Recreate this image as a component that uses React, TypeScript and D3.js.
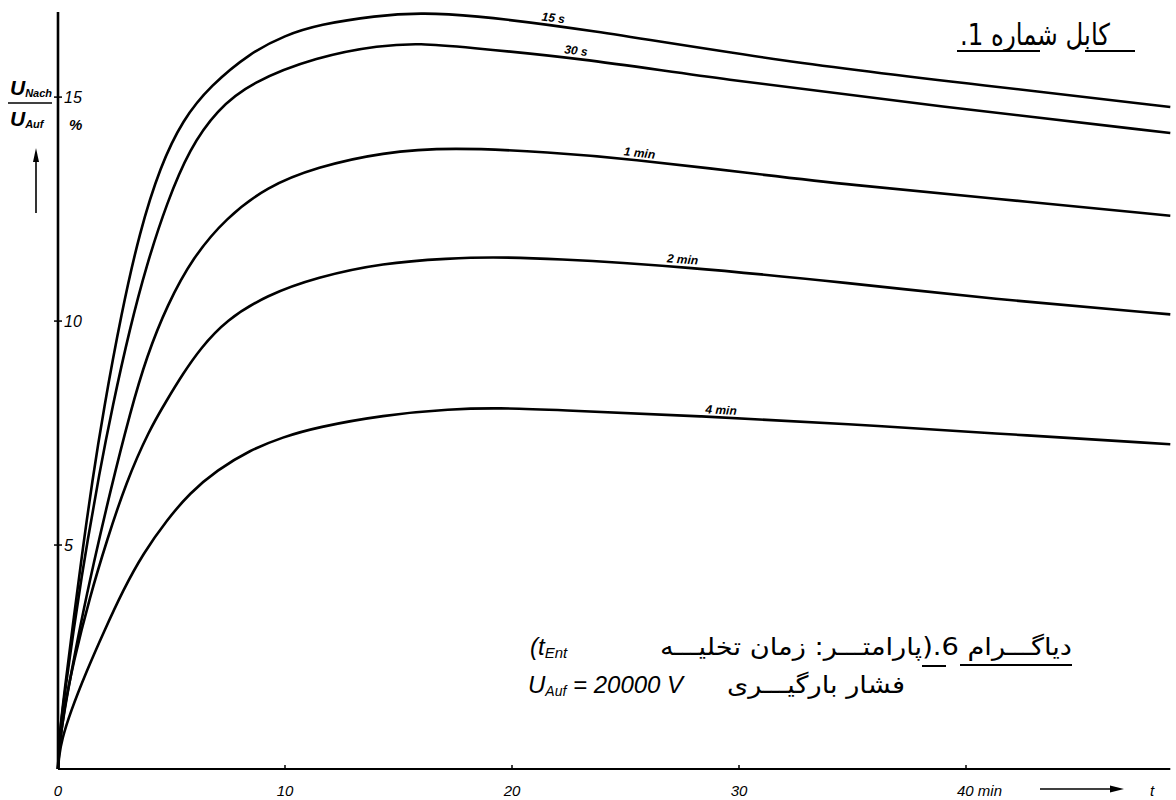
import * as d3 from 'd3';

// discharge voltage ratio U_Nach/U_Auf (%) against time (min), one curve per discharge time t_Ent
const curveNames = ['15 s', '30 s', '1 min', '2 min', '4 min'];

const series15s: [number, number][] = [
  [0, 0], [0.05, 0.7], [0.3, 1.8], [0.7, 3.4], [1.1, 4.95], [1.5, 6.4], [2.0, 8.0], [2.8, 10.2],
  [3.6, 12.0], [4.5, 13.45], [5.5, 14.5], [6.7, 15.25], [8.5, 16.0], [10, 16.38], [11.5, 16.62],
  [14, 16.82], [16, 16.88], [18, 16.84], [23, 16.54], [32, 15.78], [41, 15.25], [49, 14.78],
];
const series30s: [number, number][] = [
  [0, 0], [0.05, 0.7], [0.3, 1.7], [0.7, 3.15], [1.0, 4.15], [1.27, 5.0], [1.8, 6.55], [2.4, 8.1],
  [3.17, 9.85], [3.9, 11.25], [4.8, 12.65], [5.8, 13.85], [7.0, 14.71], [8.5, 15.33], [11.4, 15.9],
  [14.2, 16.16], [16, 16.2], [17.8, 16.12], [23, 15.87], [28.9, 15.42], [39, 14.78], [49, 14.2],
];
const series1min: [number, number][] = [
  [0, 0], [0.05, 0.5], [0.25, 1.2], [0.53, 2.0], [1.0, 3.25], [1.55, 4.55], [2.3, 6.2], [3.2, 8.0],
  [3.9, 9.2], [4.8, 10.35], [5.95, 11.43], [7.4, 12.3], [9.2, 13.0], [11.4, 13.44], [14.3, 13.77],
  [17.3, 13.88], [21.7, 13.77], [25.2, 13.62], [30.5, 13.3], [34.9, 13.04], [41, 12.75], [49, 12.35],
];
const series2min: [number, number][] = [
  [0, 0], [0.05, 0.4], [0.23, 1.25], [0.67, 2.37], [1.4, 3.84], [2.15, 5.1], [3.0, 6.4], [4.0, 7.55],
  [4.8, 8.24], [5.5, 8.82], [6.26, 9.38], [7.4, 10.02], [9.2, 10.58], [11.4, 10.98], [14.3, 11.3],
  [17.3, 11.4], [19, 11.43], [21.7, 11.4], [27.5, 11.22], [34.9, 10.85], [41, 10.5], [49, 10.15],
];
const series4min: [number, number][] = [
  [0, 0], [0.05, 0.3], [0.17, 0.65], [0.53, 1.25], [1.27, 2.2], [2.0, 3.04], [2.87, 4.0], [3.76, 4.82],
  [4.8, 5.56], [5.8, 6.16], [7.0, 6.67], [8.46, 7.12], [9.9, 7.41], [11.4, 7.63], [14.3, 7.9],
  [17.3, 8.04], [19.5, 8.06], [21.7, 8.02], [28.3, 7.88], [34.9, 7.7], [41, 7.5], [49, 7.25],
];
const allSeries = [series15s, series30s, series1min, series2min, series4min];

// where along each curve its label sits (min)
const labelAt = [21.8, 22.8, 25.6, 27.5, 29.2];

const xTicks = [0, 10, 20, 30, 40];
const yTicks = [5, 10, 15];

const W = 1176;
const H = 800;

const x = d3.scaleLinear().domain([0, 49]).range([58, 58 + 49 * 22.7]);
const y = d3.scaleLinear().domain([0, 16.9]).range([769, 12]);

const line = d3
  .line<[number, number]>()
  .x(d => x(d[0]))
  .y(d => y(d[1]))
  .curve(d3.curveBasis);

// linear lookup of a curve value, only used to park the labels on the lines
const valueAt = (s: [number, number][], t: number) => {
  const i = d3.bisector((d: [number, number]) => d[0]).left(s, t);
  if (i <= 0) return s[0][1];
  if (i >= s.length) return s[s.length - 1][1];
  const [t0, v0] = s[i - 1];
  const [t1, v1] = s[i];
  return v0 + ((v1 - v0) * (t - t0)) / (t1 - t0);
};

const tickFont = "'Liberation Sans', Arial, sans-serif";
const farsiFont = "'DejaVu Sans', sans-serif";

export default function App() {
  return (
    <svg
      width={W}
      height={H}
      viewBox={`0 0 ${W} ${H}`}
      style={{ position: 'absolute', left: 0, top: 0, background: '#fff' }}
    >
      <rect width={W} height={H} fill="#fff" />

      {/* axes */}
      <line x1={x(0)} x2={x(0)} y1={y(0)} y2={y(16.9)} stroke="#000" strokeWidth={2.6} />
      <line x1={x(0)} x2={x(49)} y1={y(0)} y2={y(0)} stroke="#000" strokeWidth={2} />

      {yTicks.map(v => (
        <g key={v}>
          <line x1={x(0) - 4} x2={x(0) + 4} y1={y(v)} y2={y(v)} stroke="#000" strokeWidth={1.5} />
          <text
            x={x(0) + 6}
            y={y(v) + 6}
            fontFamily={tickFont}
            fontStyle="italic"
            fontSize={16}
          >
            {v}
          </text>
        </g>
      ))}
      <text x={x(0) + 11} y={y(15) + 33} fontFamily={tickFont} fontStyle="italic" fontWeight="bold" fontSize={15}>
        %
      </text>

      {xTicks.map(t => (
        <g key={t}>
          {t > 0 && <line x1={x(t)} x2={x(t)} y1={y(0)} y2={y(0) - 4} stroke="#000" strokeWidth={1.5} />}
          <text
            x={t === 40 ? x(t) - 9 : x(t)}
            y={796}
            textAnchor={t === 40 ? 'start' : 'middle'}
            fontFamily={tickFont}
            fontStyle="italic"
            fontSize={15}
          >
            {t === 40 ? '40 min' : t}
          </text>
        </g>
      ))}

      {/* time arrow */}
      <line x1={1040} x2={1112} y1={789} y2={789} stroke="#000" strokeWidth={1.6} />
      <polygon points="1124,789 1110,785.5 1110,792.5" fill="#000" />
      <text x={1150} y={796} fontFamily={tickFont} fontStyle="italic" fontSize={15}>
        t
      </text>

      {/* y label */}
      <text x={10} y={95} fontFamily={tickFont} fontStyle="italic" fontWeight="bold" fontSize={21}>
        U
        <tspan fontSize={11} dy={2}>
          Nach
        </tspan>
      </text>
      <line x1={8} x2={52} y1={103} y2={103} stroke="#000" strokeWidth={1.6} />
      <text x={10} y={126} fontFamily={tickFont} fontStyle="italic" fontWeight="bold" fontSize={21}>
        U
        <tspan fontSize={11} dy={2}>
          Auf
        </tspan>
      </text>
      <line x1={36} x2={36} y1={213} y2={158} stroke="#000" strokeWidth={1.6} />
      <polygon points="36,148 33,162 39,162" fill="#000" />

      {/* curves */}
      {allSeries.map((s, i) => (
        <path key={i} d={line(s) ?? ''} fill="none" stroke="#000" strokeWidth={2.6} strokeLinejoin="round" />
      ))}

      {allSeries.map((s, i) => {
        const t = labelAt[i];
        const px = x(t);
        const py = y(valueAt(s, t));
        const ang =
          (Math.atan2(y(valueAt(s, t + 1)) - y(valueAt(s, t - 1)), x(t + 1) - x(t - 1)) * 180) / Math.PI;
        return (
          <text
            key={curveNames[i]}
            transform={`translate(${px},${py - 3}) rotate(${ang})`}
            textAnchor="middle"
            fontFamily={tickFont}
            fontStyle="italic"
            fontWeight="bold"
            fontSize={12}
          >
            {curveNames[i]}
          </text>
        );
      })}

      {/* title, top right */}
      <text
        x={1110}
        y={45}
        direction="rtl"
        textAnchor="start"
        fontFamily={farsiFont}
        fontSize={30}
        textLength={150}
        lengthAdjust="spacingAndGlyphs"
      >
        کابل شماره 1.
      </text>
      <line x1={957} x2={1040} y1={51} y2={51} stroke="#000" strokeWidth={2} />
      <line x1={1085} x2={1135} y1={51} y2={51} stroke="#000" strokeWidth={2} />

      {/* note, bottom right */}
      <text x={530} y={655} fontFamily={tickFont} fontStyle="italic" fontSize={24}>
        (t
        <tspan fontSize={15} dy={3}>
          Ent
        </tspan>
      </text>
      <text
        x={1072}
        y={655}
        direction="rtl"
        textAnchor="start"
        fontFamily={farsiFont}
        fontSize={24}
        textLength={412}
        lengthAdjust="spacingAndGlyphs"
      >
        دیاگـــرام 6.(پارامتـــر: زمان تخلیـــه
      </text>
      <line x1={922} x2={946} y1={666} y2={666} stroke="#000" strokeWidth={2} />
      <line x1={960} x2={1072} y1={665} y2={665} stroke="#000" strokeWidth={2} />

      <text x={528} y={693} fontFamily={tickFont} fontStyle="italic" fontSize={24}>
        U
        <tspan fontSize={14} dy={3}>
          Auf
        </tspan>
        <tspan dy={-3}> = 20000 V</tspan>
      </text>
      <text
        x={905}
        y={693}
        direction="rtl"
        textAnchor="start"
        fontFamily={farsiFont}
        fontSize={24}
        textLength={178}
        lengthAdjust="spacingAndGlyphs"
      >
        فشار بارگیـــری
      </text>
    </svg>
  );
}
